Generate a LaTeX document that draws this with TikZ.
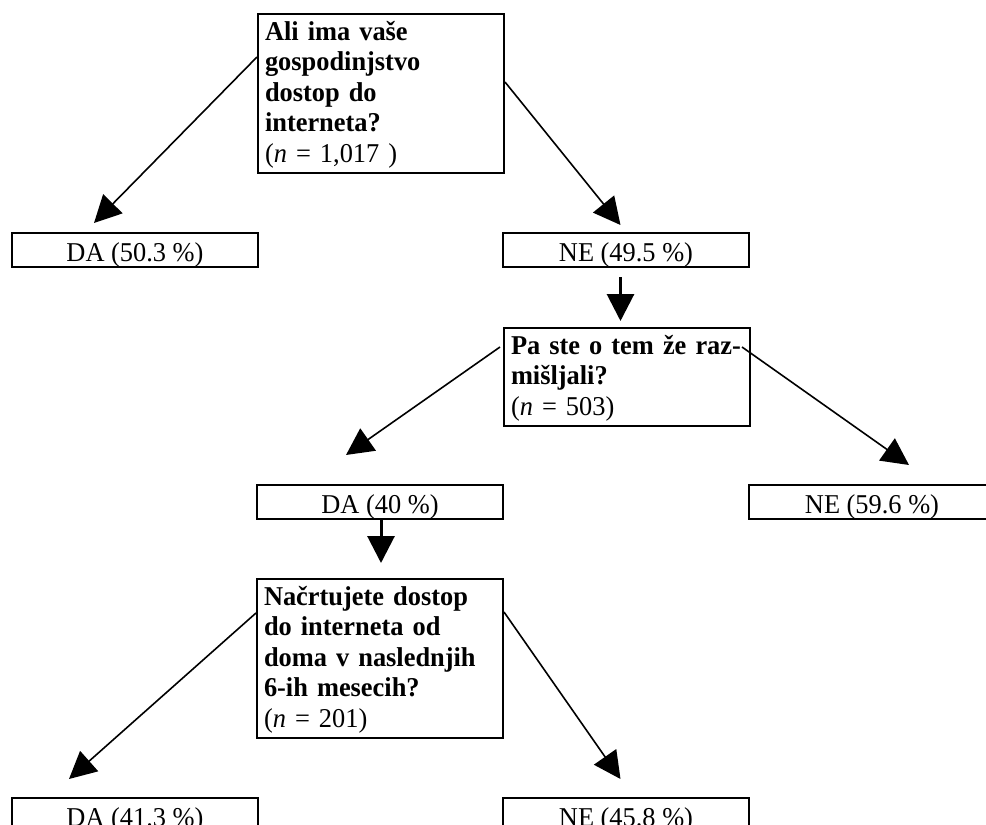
\documentclass[tikz,border=0pt]{standalone}
\usepackage{fontspec}
\setmainfont{Liberation Serif}[FakeStretch=0.97]
\usetikzlibrary{arrows.meta}

\tikzset{
  qbox/.style={draw, line width=2pt, anchor=north west, text width=232pt,
    align=left, inner xsep=7pt, inner ysep=5pt,
    font=\fontsize{27.2}{30.5}\selectfont\bfseries},
  abox/.style={draw, line width=2pt, anchor=north west, minimum width=246pt,
    text height=24pt, text depth=2pt, inner ysep=4pt, inner xsep=0pt,
    font=\fontsize{27.2}{30.5}\selectfont},
  arr/.style={line width=1.6pt, -{Triangle[length=27pt,width=27pt]}},
  darr/.style={arr, line width=3pt}
}

\begin{document}
\begin{tikzpicture}[x=1pt,y=-1pt]
\clip (0,0) rectangle (986,825);
% questions
\node[qbox] (q1) at (257,13) {\rule{0pt}{21pt}Ali ima vaše\\gospodinjstvo\\dostop do\\interneta?\\{\mdseries(\textit{n} = 1,017 )}};
\node[qbox] (q2) at (503,327) {\rule{0pt}{21pt}Pa ste o tem že raz-\\mišljali?\\{\mdseries(\textit{n} = 503)}};
\node[qbox] (q3) at (256,578) {\rule{0pt}{21pt}Načrtujete dostop\\do interneta od\\doma v naslednjih\\6-ih mesecih?\\{\mdseries(\textit{n} = 201)}};
% answers
\node[abox] (da1) at (11,232) {DA (50.3 \%)};
\node[abox] (ne1) at (502,232) {NE (49.5 \%)};
\node[abox] (da2) at (256,484) {DA (40 \%)};
\node[abox] (ne2) at (748,484) {NE (59.6 \%)};
\node[abox] (da3) at (11,797) {DA (41.3 \%)};
\node[abox] (ne3) at (502,797) {NE (45.8 \%)};
% arrows
\draw[arr] ([yshift=-44pt]q1.north west) -- ([xshift=-41pt,yshift=9pt]da1.north);
\draw[arr] ([yshift=-69pt]q1.north east) -- ([xshift=-5.5pt,yshift=7pt]ne1.north);
\draw[darr] ([xshift=-5.5pt,yshift=-9pt]ne1.south) -- ([xshift=-6.5pt,yshift=6pt]q2.north);
\draw[arr] ([xshift=-3pt,yshift=-20pt]q2.north west) -- ([xshift=-34pt,yshift=29pt]da2.north);
\draw[arr] ([xshift=-9pt,yshift=-20pt]q2.north east) -- ([xshift=37pt,yshift=19pt]ne2.north);
\draw[darr] ([xshift=1pt]da2.south) -- ([xshift=1pt,yshift=15pt]q3.north);
\draw[arr] ([yshift=-35pt]q3.north west) -- ([xshift=-66pt,yshift=18pt]da3.north);
\draw[arr] ([yshift=-34pt]q3.north east) -- ([xshift=-5.5pt,yshift=18pt]ne3.north);
\end{tikzpicture}
\end{document}
